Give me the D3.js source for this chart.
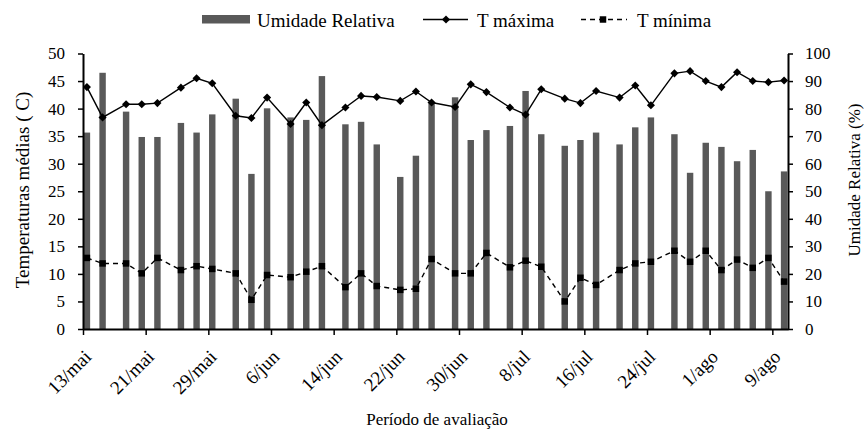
<!DOCTYPE html>
<html>
<head>
<meta charset="utf-8">
<script src="https://cdn.jsdelivr.net/npm/d3@7"></script>
<style>
  html, body { margin: 0; padding: 0; background: #fff; }
  svg { display: block; }
</style>
</head>
<body>
<svg id="chart" width="865" height="432"></svg>
<script>
// Evaluation dates (month-day)
const dates = ["05-13","05-15","05-18","05-20","05-22","05-25","05-27","05-29","06-01","06-03",
  "06-05","06-08","06-10","06-12","06-15","06-17","06-19","06-22","06-24","06-26",
  "06-29","07-01","07-03","07-06","07-08","07-10","07-13","07-15","07-17","07-20",
  "07-22","07-24","07-27","07-29","07-31","08-02","08-04","08-06","08-08","08-10"];

// Relative humidity (%)
const humidity = [71.3,93.0,78.9,69.7,69.7,74.8,71.3,77.9,83.6,56.3,
  80.1,76.8,75.9,91.8,74.3,75.2,67.0,55.2,62.9,81.9,
  84.1,68.6,72.2,73.7,86.4,70.7,66.5,68.6,71.3,67.0,
  73.2,76.8,70.7,56.7,67.6,66.1,60.9,65.0,50.0,57.2];

// Maximum temperature (°C)
const tmax = [43.9,38.4,40.8,40.8,41.0,43.8,45.5,44.6,38.7,38.3,
  42.0,37.2,41.1,37.0,40.2,42.3,42.1,41.4,43.1,41.1,
  40.3,44.4,43.0,40.2,38.9,43.5,41.8,41.0,43.2,42.0,
  44.2,40.6,46.4,46.8,45.0,43.9,46.6,45.0,44.8,45.1];

// Minimum temperature (°C)
const tmin = [12.9,11.9,11.9,10.1,12.9,10.7,11.4,10.9,10.1,5.3,
  9.8,9.4,10.4,11.4,7.6,10.1,7.8,7.1,7.3,12.7,
  10.1,10.1,13.8,11.2,12.4,11.3,5.0,9.3,8.0,10.7,
  11.9,12.2,14.2,12.2,14.2,10.7,12.6,11.1,12.9,8.6];

const monthNames = ["jan","fev","mar","abr","mai","jun","jul","ago","set","out","nov","dez"];
const leftTicks = [0,5,10,15,20,25,30,35,40,45,50];
const rightTicks = [0,10,20,30,40,50,60,70,80,90,100];

const FONT = "Liberation Serif, Times New Roman, serif";
const year = 2013;
const day = 864e5;
const parse = s => new Date(Date.UTC(year, +s.slice(0,2) - 1, +s.slice(3,5)));
const rows = dates.map((d, i) => ({ date: parse(d), rh: humidity[i], tmax: tmax[i], tmin: tmin[i] }));

const svg = d3.select("#chart").attr("font-family", FONT);
const m = { left: 83, right: 788, top: 53.5, bottom: 329 };

const x = d3.scaleUtc()
  .domain([new Date(Date.UTC(year, 4, 13)), new Date(Date.UTC(year, 7, 11))])
  .range([m.left, m.right]);
const yT = d3.scaleLinear().domain([0, 50]).range([m.bottom, m.top]);
const yH = d3.scaleLinear().domain([0, 100]).range([m.bottom, m.top]);

// day-centred position
const cx = d => x(new Date(+d + day / 2));
const barW = (x(new Date(day)) - x(new Date(0))) * 0.82;

// Humidity bars
svg.append("g").selectAll("rect").data(rows).join("rect")
  .attr("x", d => cx(d.date) - barW / 2)
  .attr("width", barW)
  .attr("y", d => yH(d.rh))
  .attr("height", d => yH(0) - yH(d.rh))
  .attr("fill", "#595959");

// Temperature lines
const lineMax = d3.line().x(d => cx(d.date)).y(d => yT(d.tmax));
const lineMin = d3.line().x(d => cx(d.date)).y(d => yT(d.tmin));
svg.append("path").datum(rows).attr("d", lineMax)
  .attr("fill", "none").attr("stroke", "#000").attr("stroke-width", 1.4);
svg.append("path").datum(rows).attr("d", lineMin)
  .attr("fill", "none").attr("stroke", "#000").attr("stroke-width", 1.4)
  .attr("stroke-dasharray", "5,4");

const diamond = d3.symbol().type(d3.symbolDiamond2).size(42);
const square = d3.symbol().type(d3.symbolSquare).size(42);
svg.append("g").selectAll("path").data(rows).join("path")
  .attr("d", diamond)
  .attr("transform", d => `translate(${cx(d.date)},${yT(d.tmax)})`)
  .attr("fill", "#000");
svg.append("g").selectAll("path").data(rows).join("path")
  .attr("d", square)
  .attr("transform", d => `translate(${cx(d.date)},${yT(d.tmin)})`)
  .attr("fill", "#000");

// Axes
const axisStyle = size => g => {
  g.attr("font-family", FONT).attr("font-size", size);
  g.select(".domain").attr("stroke-width", 2).attr("stroke", "#000");
  g.selectAll(".tick line").attr("stroke-width", 1.5).attr("stroke", "#000");
  g.selectAll("text").attr("fill", "#000");
};

svg.append("g").attr("transform", `translate(${m.left},0)`)
  .call(d3.axisLeft(yT).tickValues(leftTicks).tickSize(5).tickSizeOuter(0).tickPadding(13))
  .call(axisStyle(17));

svg.append("g").attr("transform", `translate(${m.right},0)`)
  .call(d3.axisRight(yH).tickValues(rightTicks).tickSize(5).tickSizeOuter(0).tickPadding(12))
  .call(axisStyle(17));

const xTicks = d3.range(12).map(i => new Date(Date.UTC(year, 4, 13) + i * 8 * day));
const fmt = d => `${d.getUTCDate()}/${monthNames[d.getUTCMonth()]}`;
const gx = svg.append("g").attr("transform", `translate(0,${m.bottom})`)
  .call(d3.axisBottom(x).tickValues(xTicks).tickFormat(fmt).tickSize(6).tickSizeOuter(0))
  .call(axisStyle(19));
gx.selectAll("text")
  .attr("text-anchor", "end")
  .attr("x", 0).attr("y", 0).attr("dy", 0)
  .attr("transform", "translate(9,29) rotate(-45)");

// Axis titles
svg.append("text")
  .attr("transform", "translate(29,190) rotate(-90)")
  .attr("text-anchor", "middle")
  .attr("font-size", 19)
  .text("Temperaturas médias (   C)");
svg.append("text")
  .attr("transform", "translate(860,180) rotate(-90)")
  .attr("text-anchor", "middle")
  .attr("font-size", 17)
  .text("Umidade Relativa (%)");
svg.append("text")
  .attr("x", 437).attr("y", 425)
  .attr("text-anchor", "middle")
  .attr("font-size", 17)
  .text("Período de avaliação");

// Legend
const lg = svg.append("g").attr("font-size", 19);
lg.append("rect").attr("x", 202).attr("y", 15).attr("width", 48).attr("height", 8.5).attr("fill", "#595959");
lg.append("text").attr("x", 257).attr("y", 26.5).text("Umidade Relativa");
lg.append("line").attr("x1", 423).attr("x2", 468).attr("y1", 19.5).attr("y2", 19.5).attr("stroke", "#000").attr("stroke-width", 1.4);
lg.append("path").attr("d", diamond).attr("transform", "translate(446,19.5)");
lg.append("text").attr("x", 477).attr("y", 26.5).text("T máxima");
lg.append("line").attr("x1", 581).attr("x2", 627).attr("y1", 19.5).attr("y2", 19.5).attr("stroke", "#000").attr("stroke-width", 1.4).attr("stroke-dasharray", "5,4");
lg.append("path").attr("d", square).attr("transform", "translate(603,19.5)");
lg.append("text").attr("x", 637).attr("y", 26.5).text("T mínima");
</script>
</body>
</html>
